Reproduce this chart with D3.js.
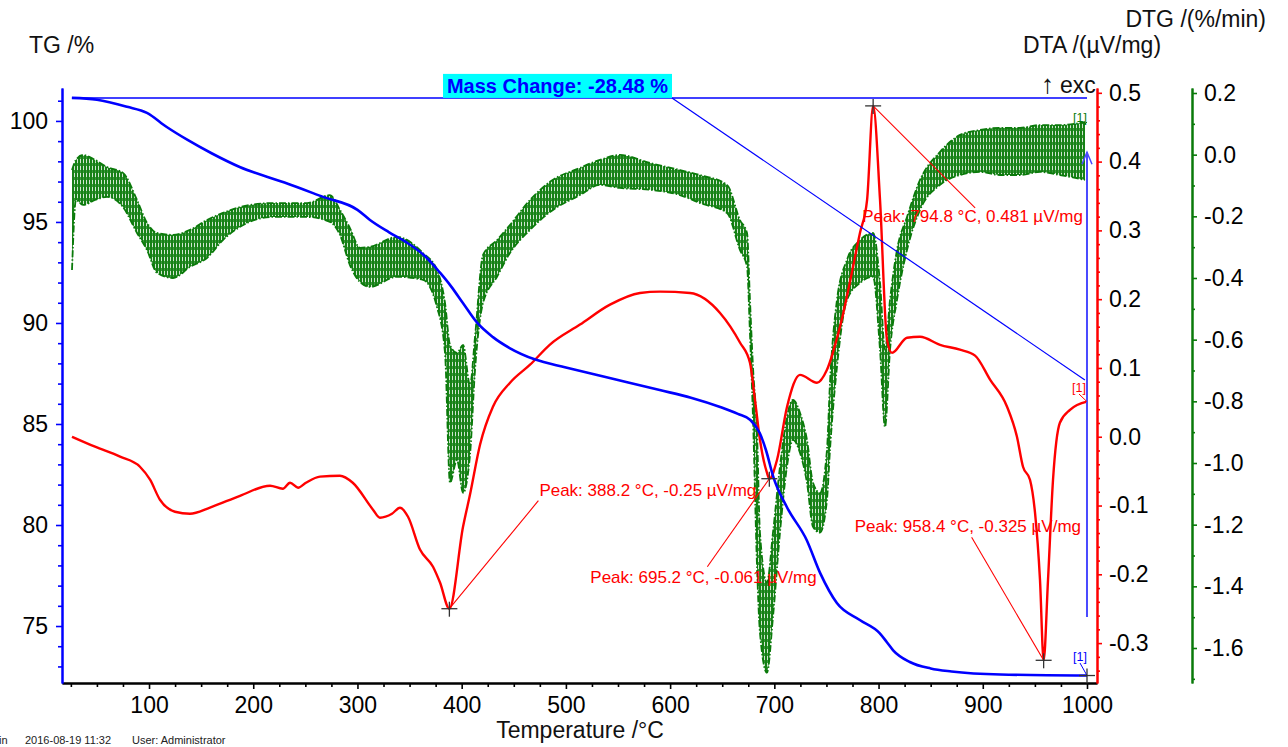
<!DOCTYPE html>
<html><head><meta charset="utf-8">
<script src="https://cdn.jsdelivr.net/npm/d3@7/dist/d3.min.js"></script>
<style>
body{margin:0;background:#fff;}
svg{display:block;font-family:"Liberation Sans",Arial,Helvetica,sans-serif;}
</style></head><body>
<svg id="c" width="1288" height="747"></svg>
<script>
// ---------------- data ----------------
const tgTemp  = [26,50,79,98,117,137,160,187,230,267,300,312,330,348,365,379,390,401,415,430,446,470,500,540,590,620,648,665,677,686,692,699,712,731,744,760,782,801,808,814,830,850,870,917,1000];
const tgValue = [101.14,101.05,100.7,100.4,99.7,99.06,98.4,97.72,96.95,96.24,95.6,95.1,94.5,93.96,93.3,92.5,91.8,91.0,90.0,89.3,88.76,88.2,87.8,87.3,86.68,86.3,85.84,85.5,85.2,84.55,83.7,82.38,80.89,79.26,77.62,76.14,75.3,74.65,74.2,73.8,73.22,72.9,72.75,72.6,72.55];

const dtaTemp  = [26.1,48.2,72.2,91.3,101,110.5,124.9,139.3,158.5,187.3,216.1,228.4,235.3,243,250.6,264,283.2,295.5,314.9,321.6,333.1,340.8,348.5,360,372.5,379.2,388.2,401.3,408,417.6,430,446.4,465.6,484.7,513.5,542.3,571.1,590.3,619.1,647.9,667,676.6,681.4,686.2,692.9,695.2,702.6,712.2,724.6,740.9,750.5,763,782.2,789,794.8,801.4,808.1,812.9,827.3,839.8,859,878.1,892.6,907,923.3,932.8,938.6,945.3,950.1,954.9,958.4,962.6,967.4,974,983.7,1000];
const dtaValue = [0.0,-0.0145,-0.029,-0.0436,-0.0625,-0.0916,-0.109,-0.112,-0.103,-0.0858,-0.0712,-0.0756,-0.0669,-0.0741,-0.0669,-0.058,-0.0567,-0.0669,-0.106,-0.1177,-0.112,-0.1032,-0.1163,-0.164,-0.189,-0.212,-0.25,-0.131,-0.084,-0.0116,0.0436,0.0785,0.1047,0.134,0.163,0.192,0.209,0.211,0.209,0.18,0.137,0.1076,0.0538,-0.0044,-0.0523,-0.061,-0.0334,0.0436,0.09,0.0785,0.0974,0.16,0.2965,0.3445,0.481,0.3445,0.141,0.122,0.144,0.1453,0.1337,0.1265,0.118,0.083,0.0436,0.0,-0.0436,-0.0625,-0.11,-0.208,-0.325,-0.208,-0.0625,0.0203,0.039,0.051];

// DTG is a noisy signal: upper and lower envelope of the noise band
const dtgTemp = [26.1,29.9,36.7,48.2,59.7,75.0,88.5,98.0,107.6,123.0,139.3,155.6,170.9,187.3,218.9,251.6,273.6,283.2,292.8,302.4,312.0,337.9,362.9,376.3,384.0,388.8,395.5,401.3,408.0,412.8,420.5,433.9,446.3,465.6,484.7,513.5,532.7,551.9,580.7,609.5,628.7,654.6,667.0,673.8,676.6,679.5,683.4,686.2,692.9,698.7,705.4,712.1,717.9,724.6,731.3,737.1,743.8,750.5,753.4,760.1,769.7,782.2,794.7,801.4,806.2,811.0,817.7,827.3,839.8,859.0,878.2,897.4,916.6,935.8,955.0,974.2,998.1];
const dtgHigh = [-0.050,-0.017,-0.001,-0.017,-0.040,-0.059,-0.147,-0.221,-0.254,-0.260,-0.244,-0.212,-0.189,-0.170,-0.157,-0.157,-0.131,-0.179,-0.238,-0.302,-0.299,-0.267,-0.319,-0.374,-0.481,-0.617,-0.643,-0.617,-0.747,-0.591,-0.325,-0.277,-0.228,-0.147,-0.088,-0.043,-0.017,-0.001,-0.027,-0.050,-0.066,-0.098,-0.212,-0.254,-0.471,-0.688,-0.902,-1.226,-1.388,-1.226,-1.012,-0.850,-0.795,-0.837,-0.925,-1.064,-1.097,-0.957,-0.740,-0.471,-0.341,-0.277,-0.254,-0.416,-0.633,-0.471,-0.309,-0.202,-0.082,0.009,0.064,0.080,0.087,0.087,0.096,0.096,0.106];
const dtgLow  = [-0.374,-0.147,-0.163,-0.147,-0.137,-0.170,-0.254,-0.309,-0.383,-0.400,-0.364,-0.335,-0.277,-0.234,-0.202,-0.202,-0.218,-0.260,-0.358,-0.413,-0.429,-0.396,-0.406,-0.494,-0.643,-1.064,-0.990,-1.097,-0.973,-0.698,-0.481,-0.396,-0.319,-0.244,-0.186,-0.131,-0.098,-0.108,-0.114,-0.131,-0.157,-0.189,-0.309,-0.364,-0.578,-0.850,-1.336,-1.550,-1.680,-1.499,-1.226,-1.012,-0.925,-0.967,-1.064,-1.207,-1.226,-1.119,-0.957,-0.688,-0.471,-0.416,-0.396,-0.633,-0.883,-0.633,-0.471,-0.309,-0.179,-0.098,-0.066,-0.056,-0.066,-0.066,-0.056,-0.066,-0.082];

const peakTemp  = [388.2, 695.2, 794.8, 958.4];
const peakValue = [-0.25, -0.061, 0.481, -0.325];
const peakLabel = ["Peak: 388.2 °C, -0.25 µV/mg","Peak: 695.2 °C, -0.061 µV/mg","Peak: 794.8 °C, 0.481 µV/mg","Peak: 958.4 °C, -0.325 µV/mg"];

const massChangeLabel = "Mass Change: -28.48 %";

const xTicks      = [100,200,300,400,500,600,700,800,900,1000];
const xMinorTicks = d3.range(25, 1001, 25).filter(v => v % 100 !== 0);
const tgTicks      = [75,80,85,90,95,100];
const tgMinorTicks = d3.range(73, 102, 1).filter(v => v % 5 !== 0);
const dtaTicks      = [-0.3,-0.2,-0.1,0.0,0.1,0.2,0.3,0.4,0.5];
const dtaMinorTicks = d3.range(-17, 26, 1).map(v => v * 0.02).filter(v => Math.abs(v*10 - Math.round(v*10)) > 1e-6);
const dtgTicks      = [-1.6,-1.4,-1.2,-1.0,-0.8,-0.6,-0.4,-0.2,0.0,0.2];
const dtgMinorTicks = [-1.7,-1.5,-1.3,-1.1,-0.9,-0.7,-0.5,-0.3,-0.1,0.1];

// ---------------- scales ----------------
const svg = d3.select("#c");
const x    = d3.scaleLinear().domain([16.5, 1009.6]).range([62, 1097]);
const yTG  = d3.scaleLinear().domain([72.18, 101.63]).range([683, 88]);
const yDTA = d3.scaleLinear().domain([-0.358, 0.507]).range([683, 88]);
const yDTG = d3.scaleLinear().domain([-1.7135, 0.2162]).range([683, 88]);
const f1 = v => d3.format(".1f")(v).replace("\u2212", "-");

const BLUE = "#0000ff", RED = "#ff0000", GREEN = "#0a7a0a";
const FS = 23;

// texture for the noisy DTG band (vertical strokes)
const defs = svg.append("defs");
const pat = defs.append("pattern").attr("id", "noise").attr("patternUnits", "userSpaceOnUse")
  .attr("width", 3).attr("height", 7);
pat.append("rect").attr("x", 0).attr("y", 0).attr("width", 2.2).attr("height", 7).attr("fill", GREEN);
pat.append("rect").attr("x", 2.2).attr("y", 2).attr("width", 0.8).attr("height", 3).attr("fill", GREEN);

// ---------------- axes ----------------
function styleAxis(g, color, textColor) {
  g.select(".domain").attr("stroke", color).attr("stroke-width", 2);
  g.selectAll(".tick line").attr("stroke", color).attr("stroke-width", 1.6);
  g.selectAll(".tick text").attr("fill", textColor).attr("font-size", FS).attr("font-family", "Liberation Sans, Arial, sans-serif");
}
// bottom
svg.append("g").attr("transform", "translate(0,683)")
  .call(d3.axisBottom(x).tickValues(xMinorTicks).tickSize(4).tickSizeOuter(0).tickFormat(""))
  .call(g => styleAxis(g, "#000", "#000"));
svg.append("g").attr("transform", "translate(0,683)")
  .call(d3.axisBottom(x).tickValues(xTicks).tickSize(6).tickPadding(8).tickSizeOuter(0).tickFormat(d3.format("d")))
  .call(g => styleAxis(g, "#000", "#000"));
// left TG
svg.append("g").attr("transform", "translate(62,0)")
  .call(d3.axisLeft(yTG).tickValues(tgMinorTicks).tickSize(4).tickSizeOuter(0).tickFormat(""))
  .call(g => styleAxis(g, BLUE, "#000"));
svg.append("g").attr("transform", "translate(62,0)")
  .call(d3.axisLeft(yTG).tickValues(tgTicks).tickSize(6).tickPadding(8).tickSizeOuter(0).tickFormat(d3.format("d")))
  .call(g => styleAxis(g, BLUE, "#000"));
// right DTA
svg.append("g").attr("transform", "translate(1097,0)")
  .call(d3.axisRight(yDTA).tickValues(dtaMinorTicks).tickSize(3).tickSizeOuter(0).tickFormat(""))
  .call(g => styleAxis(g, RED, "#000"));
svg.append("g").attr("transform", "translate(1097,0)")
  .call(d3.axisRight(yDTA).tickValues(dtaTicks).tickSize(5).tickPadding(7).tickSizeOuter(0).tickFormat(f1))
  .call(g => styleAxis(g, RED, "#000"));
// right DTG
svg.append("g").attr("transform", "translate(1192,0)")
  .call(d3.axisRight(yDTG).tickValues(dtgMinorTicks).tickSize(3).tickSizeOuter(0).tickFormat(""))
  .call(g => styleAxis(g, GREEN, "#000"));
svg.append("g").attr("transform", "translate(1192,0)")
  .call(d3.axisRight(yDTG).tickValues(dtgTicks).tickSize(5).tickPadding(7).tickSizeOuter(0).tickFormat(f1))
  .call(g => styleAxis(g, GREEN, "#000"));

// axis titles
const title = (t, xx, yy, anchor, fs) => svg.append("text").attr("x", xx).attr("y", yy)
  .attr("font-size", fs || FS).attr("fill", "#111").attr("text-anchor", anchor || "start").text(t);
title("TG /%", 29, 53);
title("DTA /(µV/mg)", 1023, 53);
title("DTG /(%/min)", 1266, 27, "end");
title("\u2191", 1041, 93, "start", 26);
title("exc", 1060, 93);
title("Temperature /°C", 580, 738, "middle");

// footer (at the picture's bottom edge)
[["in", -1], ["2016-08-19 11:32", 25], ["User: Administrator", 132]].forEach(d =>
  svg.append("text").attr("x", d[1]).attr("y", 744).attr("font-size", 11).attr("fill", "#222").text(d[0]));

// ---------------- curves ----------------
const plot = svg.append("g");

// DTG noise band
const dtgData = dtgTemp.map((t, i) => ({t, hi: dtgHigh[i], lo: dtgLow[i]}));
plot.append("path").datum(dtgData)
  .attr("d", d3.area().x(d => x(d.t)).y0(d => yDTG(d.lo)).y1(d => yDTG(d.hi)).curve(d3.curveMonotoneX))
  .attr("fill", "url(#noise)").attr("fill-opacity", 0.95).attr("stroke", "none");
["hi", "lo"].forEach(k => plot.append("path").datum(dtgData)
  .attr("d", d3.line().x(d => x(d.t)).y(d => yDTG(d[k])).curve(d3.curveMonotoneX))
  .attr("fill", "none").attr("stroke", GREEN).attr("stroke-width", 1.8)
  .attr("stroke-dasharray", "7,2,1.5,2"));

// DTA
const dtaData = dtaTemp.map((t, i) => ({t, v: dtaValue[i]}));
plot.append("path").datum(dtaData)
  .attr("d", d3.line().x(d => x(d.t)).y(d => yDTA(d.v)).curve(d3.curveMonotoneX))
  .attr("fill", "none").attr("stroke", RED).attr("stroke-width", 2.4);

// TG
const tgData = tgTemp.map((t, i) => ({t, v: tgValue[i]}));
plot.append("path").datum(tgData)
  .attr("d", d3.line().x(d => x(d.t)).y(d => yTG(d.v)).curve(d3.curveMonotoneX))
  .attr("fill", "none").attr("stroke", BLUE).attr("stroke-width", 2.6);

// ---------------- mass change annotation ----------------
const tgStart = tgValue[0], tEnd = 1000;
const yStart = yTG(tgStart);
plot.append("line").attr("x1", x(tgTemp[0])).attr("x2", x(tEnd)).attr("y1", yStart).attr("y2", yStart)
  .attr("stroke", BLUE).attr("stroke-width", 1.5);
const box = {x0: 443, x1: 672};
svg.append("rect").attr("x", box.x0).attr("y", yStart - 24).attr("width", box.x1 - box.x0).attr("height", 24)
  .attr("fill", "#00ffff");
svg.append("text").attr("x", (box.x0 + box.x1) / 2).attr("y", yStart - 5).attr("text-anchor", "middle")
  .attr("font-size", 20).attr("font-weight", "bold").attr("fill", BLUE).text(massChangeLabel);
plot.append("line").attr("x1", box.x1).attr("y1", yStart).attr("x2", x(998)).attr("y2", yTG(87.18))
  .attr("stroke", BLUE).attr("stroke-width", 1.2);
// vertical arrow at 1000 °C
plot.append("line").attr("x1", x(tEnd)).attr("x2", x(tEnd)).attr("y1", yTG(75.45)).attr("y2", yTG(98.45))
  .attr("stroke", "#4a4aff").attr("stroke-width", 2);
plot.append("path").attr("d", d3.line()([[x(tEnd) - 5, yTG(98.45) + 12], [x(tEnd), yTG(98.45)], [x(tEnd) + 5, yTG(98.45) + 12]]))
  .attr("fill", "none").attr("stroke", "#4a4aff").attr("stroke-width", 1.5);

// ---------------- peak markers ----------------
const cross = (cx, cy) => {
  plot.append("line").attr("x1", cx - 8).attr("x2", cx + 8).attr("y1", cy).attr("y2", cy).attr("stroke", "#333").attr("stroke-width", 1.3);
  plot.append("line").attr("x1", cx).attr("x2", cx).attr("y1", cy - 7).attr("y2", cy + 8).attr("stroke", "#333").attr("stroke-width", 1.3);
};
// label offsets relative to each peak (layout only)
const labelOffsets = [
  {tx: 90, ty: -113, lx: 89, ly: -108},
  {tx: -179, ty: 104, lx: -62, ly: 88},
  {tx: -11, ty: 116, lx: 102, ly: 102},
  {tx: -189, ty: -128, lx: -72, ly: -123}
];
peakTemp.forEach((t, i) => {
  const px = x(t), py = yDTA(peakValue[i]), o = labelOffsets[i];
  plot.append("line").attr("x1", px + o.lx).attr("y1", py + o.ly).attr("x2", px).attr("y2", py)
    .attr("stroke", RED).attr("stroke-width", 1.1);
  cross(px, py);
  svg.append("text").attr("x", px + o.tx).attr("y", py + o.ty).attr("font-size", 17).attr("fill", RED).text(peakLabel[i]);
});

// ---------------- curve end markers "[1]" ----------------
const endTag = (color, tx, ty, lx1, ly1, ex, ey) => {
  svg.append("text").attr("x", tx).attr("y", ty).attr("font-size", 12.5).attr("fill", color).text("[1]");
  plot.append("line").attr("x1", lx1).attr("y1", ly1).attr("x2", ex).attr("y2", ey).attr("stroke", color).attr("stroke-width", 1);
};
const xe = x(1000);
endTag(GREEN, xe - 14, 122, xe - 2, 124, xe, yDTG(dtgHigh[dtgHigh.length - 1]));
endTag(RED, xe - 15, 392, xe - 8, 394, xe, yDTA(dtaValue[dtaValue.length - 1]));
endTag(BLUE, xe - 14, 661, xe - 7, 663, xe, yTG(tgValue[tgValue.length - 1]));
cross(xe, yTG(tgValue[tgValue.length - 1]));
</script>
</body></html>
